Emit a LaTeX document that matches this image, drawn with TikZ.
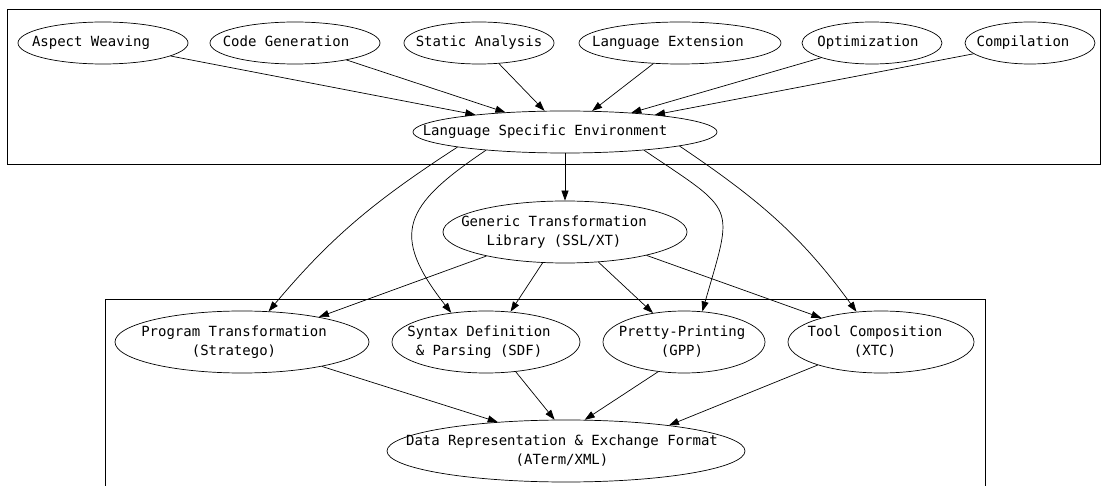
\documentclass[tikz,border=0pt]{standalone}
\usepackage{fontspec}
\newfontfamily\gvfont{DejaVu Sans Mono}
\usetikzlibrary{shapes.geometric,arrows.meta}
\newcommand{\shifted}[2]{\makebox[0pt]{\hspace*{#1pt}\hspace*{#1pt}#2}}
\newcommand{\twolines}[2]{\begin{tabular}{@{}c@{}}#1\\#2\end{tabular}}

\begin{document}
\begin{tikzpicture}[x=1pt,y=-1pt]
\tikzstyle{every node}=[font=\gvfont\fontsize{14}{19.5}\selectfont]
\tikzstyle{task}=[draw, ellipse, inner sep=0pt, line width=0.7pt]
\tikzstyle{small}=[task, minimum height=42pt, text height=10pt, text depth=3pt]
\tikzstyle{big}=[task, minimum height=62pt]
\tikzstyle{flow}=[draw, line width=0.7pt, -{Triangle[length=10pt,width=7pt]}]
\tikzstyle{cluster}=[draw, line width=0.7pt]

\useasboundingbox (0,0) rectangle (1101,486);
\draw[cluster] (7,9) rectangle (1100,164);
\draw[cluster] (105,486) -- (105,299) -- (985,299) -- (985,486);

\node[small, minimum width=170pt] (weaving) at (103,43) {\shifted{-12}{Aspect Weaving}};
\node[small, minimum width=170pt] (codegen) at (295,43) {\shifted{-9}{Code Generation}};
\node[small, minimum width=150pt] (analysis) at (479,43) {\shifted{0}{Static Analysis}};
\node[small, minimum width=202pt] (extension) at (680,43) {\shifted{-12}{Language Extension}};
\node[small, minimum width=140pt] (optim) at (872,43) {\shifted{-4}{Optimization}};
\node[small, minimum width=130pt] (compil) at (1030,43) {\shifted{-7}{Compilation}};

\node[small, minimum width=304pt] (lse) at (565,132) {\shifted{-20}{Language Specific Environment}};
\node[big, minimum width=244pt] (gtl) at (565,232) {\shifted{-11}{\twolines{Generic Transformation}{Library (SSL/XT)}}};

\node[big, minimum width=254pt] (stratego) at (242,342) {\shifted{-8}{\twolines{Program Transformation}{(Stratego)}}};
\node[big, minimum width=188pt] (sdf) at (486,342) {\shifted{-7}{\twolines{Syntax Definition}{\& Parsing (SDF)}}};
\node[big, minimum width=162pt] (gpp) at (684,342) {\shifted{-2}{\twolines{Pretty-Printing}{(GPP)}}};
\node[big, minimum width=186pt] (xtc) at (881,342) {\shifted{-6}{\twolines{Tool Composition}{(XTC)}}};

\node[big, minimum width=358pt] (aterm) at (566,451) {\shifted{-4}{\twolines{Data Representation \& Exchange Format}{(ATerm/XML)}}};

\draw[flow] (weaving) -- (lse);
\draw[flow] (codegen) -- (lse);
\draw[flow] (analysis) -- (lse);
\draw[flow] (extension) -- (lse);
\draw[flow] (optim) -- (lse);
\draw[flow] (compil) -- (lse);

\draw[flow] (lse) -- (gtl);
\draw[flow] (lse.-172) to[out=213,in=50] (stratego.49);
\draw[flow] (lse.-167) to[out=214,in=128,distance=100pt] (sdf.140);
\draw[flow] (lse.-13) to[out=-34,in=74,distance=113pt] (gpp.59);
\draw[flow] (lse.-7.5) to[out=-34,in=126] (xtc.129);

\draw[flow] (gtl.-163) -- (stratego.18);
\draw[flow] (gtl.-126) -- (sdf.51);
\draw[flow] (gtl.-42) -- (gpp.137);
\draw[flow] (gtl.-16) -- (xtc.158);

\draw[flow] (stratego.-17) -- (aterm.157);
\draw[flow] (sdf.-45) -- (aterm.110);
\draw[flow] (gpp.-131) -- (aterm.59);
\draw[flow] (xtc.-160) -- (aterm.14);
\end{tikzpicture}
\end{document}
